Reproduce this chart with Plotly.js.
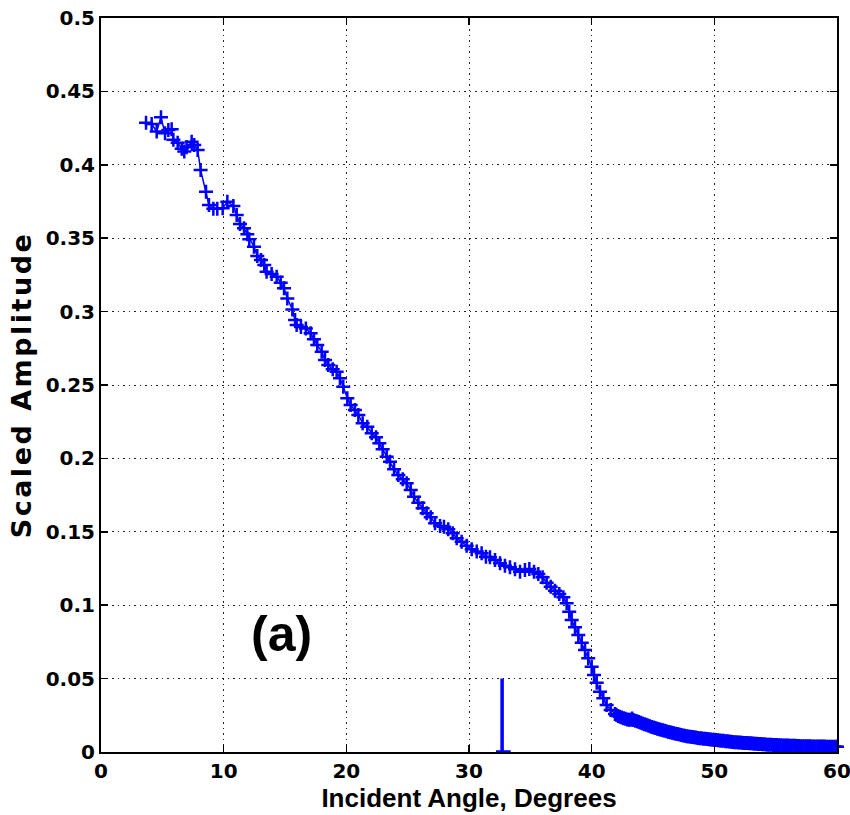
<!DOCTYPE html>
<html>
<head>
<meta charset="utf-8">
<script src="https://cdn.plot.ly/plotly-3.0.1.min.js"></script>
<style>html,body{margin:0;padding:0;background:#fff;}#plot{width:850px;height:815px;}
.ytitle{letter-spacing:2.5px;}</style>
</head>
<body>
<div id="plot"></div>
<script>
// Incident angle (degrees)
const angle = [
  3.67, 4.13, 4.54, 4.89, 5.22, 5.49, 5.76, 5.9, 6.25, 6.58, 6.79, 6.98, 7.39, 7.6, 7.88,
  8.12, 8.56, 8.8, 9.16, 9.48, 9.92, 10.3, 10.79, 11.06, 11.33, 11.66, 11.93, 12.09, 12.47,
  12.74, 13.04, 13.31, 13.5, 13.91, 14.32, 14.65, 14.92, 15.19, 15.6, 15.82, 15.95, 16.3,
  16.7, 17.09, 17.36, 17.63, 17.99, 18.26, 18.53, 18.89, 19.21, 19.48, 19.75, 20.08, 20.35,
  20.7, 20.98, 21.33, 21.71, 22.07, 22.42, 22.69, 22.96, 23.29, 23.56, 23.89, 24.24, 24.6,
  24.92, 25.25, 25.52, 25.87, 26.22, 26.55, 26.88, 27.23, 27.64, 27.96, 28.31, 28.67, 29.0,
  29.4, 29.81, 30.22, 30.63, 31.03, 31.38, 31.71, 32.12, 32.53, 32.93, 33.34, 33.75, 34.16,
  34.56, 34.92, 35.3, 35.65, 36.0, 36.33, 36.66, 37.01, 37.36, 37.69, 37.96, 38.17, 38.37,
  38.64, 38.91, 39.19, 39.46, 39.72, 40.0, 40.19, 40.41, 40.68, 40.95, 41.22, 41.55, 41.9,
  42.0, 42.15, 42.3, 42.45, 42.6, 42.75, 42.9, 43.05, 43.2, 43.3, 43.4, 43.55, 43.7, 43.85,
  44.0, 44.15, 44.3, 44.45, 44.6, 44.75, 44.9, 45.05, 45.2, 45.35, 45.5, 45.65, 45.8, 45.95,
  46.1, 46.25, 46.4, 46.55, 46.7, 46.85, 47.0, 47.15, 47.3, 47.45, 47.6, 47.75, 47.9, 48.05,
  48.2, 48.35, 48.5, 48.65, 48.8, 48.95, 49.1, 49.25, 49.4, 49.55, 49.7, 49.85, 50.0, 50.15,
  50.3, 50.45, 50.6, 50.75, 50.9, 51.05, 51.2, 51.35, 51.5, 51.65, 51.8, 51.95, 52.1, 52.25,
  52.4, 52.55, 52.7, 52.85, 53.0, 53.15, 53.3, 53.45, 53.6, 53.75, 53.9, 54.05, 54.2, 54.35,
  54.5, 54.65, 54.8, 54.95, 55.1, 55.25, 55.4, 55.55, 55.7, 55.85, 56.0, 56.15, 56.3, 56.45,
  56.6, 56.75, 56.9, 57.05, 57.2, 57.35, 57.5, 57.65, 57.8, 57.95, 58.1, 58.25, 58.4, 58.55,
  58.7, 58.85, 59.0, 59.15, 59.3, 59.45, 59.6, 59.75, 59.9, 60.0
];
// Scaled amplitude
const amplitude = [
  0.4287, 0.4278, 0.4226, 0.4324, 0.4215, 0.4237, 0.4242, 0.417, 0.415, 0.411, 0.409, 0.412, 0.4157, 0.4135, 0.410,
  0.3965, 0.3817, 0.3726, 0.370, 0.370, 0.3704, 0.3749, 0.372, 0.3658, 0.3597, 0.3567, 0.3527, 0.3493, 0.3442,
  0.3379, 0.3351, 0.3317, 0.3272, 0.3256, 0.3238, 0.3197, 0.3159, 0.309, 0.3015, 0.2943, 0.2909, 0.2895,
  0.2885, 0.2852, 0.2811, 0.2772, 0.2727, 0.267, 0.2636, 0.2607, 0.2591, 0.2546, 0.2488, 0.241, 0.2364,
  0.233, 0.2296, 0.2239, 0.2216, 0.2171, 0.2144, 0.2103, 0.2062, 0.2012, 0.1978, 0.1926, 0.1887, 0.1858,
  0.183, 0.1785, 0.1739, 0.1698, 0.166, 0.1626, 0.1599, 0.1558, 0.154, 0.1535, 0.1517, 0.149, 0.1456,
  0.1433, 0.1405, 0.1381, 0.1365, 0.1354, 0.133, 0.1326, 0.1308, 0.1285, 0.1269, 0.1258, 0.1245, 0.1228,
  0.124, 0.1247, 0.1228, 0.1213, 0.119, 0.1153, 0.1126, 0.1099, 0.1076, 0.1054, 0.1013, 0.0956, 0.0899,
  0.0849, 0.0797, 0.0745, 0.0695, 0.0638, 0.0581, 0.0525, 0.0472, 0.0411, 0.0366, 0.032, 0.0286, 0.0259,
  0.0253, 0.0246, 0.0240, 0.0235, 0.0230, 0.0226, 0.0222, 0.0220, 0.0219, 0.0229, 0.0218, 0.0213, 0.0209, 0.0204,
  0.0199, 0.0194, 0.0189, 0.0185, 0.0180, 0.0176, 0.0171, 0.0167, 0.0163, 0.0159, 0.0155, 0.0152, 0.0148, 0.0145,
  0.0141, 0.0137, 0.0134, 0.0131, 0.0128, 0.0125, 0.0122, 0.0119, 0.0116, 0.0113, 0.0110, 0.0108, 0.0106, 0.0104,
  0.0102, 0.0100, 0.0098, 0.0096, 0.0094, 0.0093, 0.0091, 0.0090, 0.0088, 0.0087, 0.0086, 0.0084, 0.0083, 0.0082,
  0.0080, 0.0079, 0.0077, 0.0076, 0.0074, 0.0073, 0.0071, 0.0070, 0.0068, 0.0067, 0.0066, 0.0065, 0.0064, 0.0063,
  0.0062, 0.0062, 0.0061, 0.0060, 0.0059, 0.0058, 0.0057, 0.0056, 0.0055, 0.0054, 0.0053, 0.0052, 0.0051, 0.0050,
  0.0050, 0.0049, 0.0048, 0.0048, 0.0047, 0.0046, 0.0046, 0.0045, 0.0045, 0.0044, 0.0044, 0.0043, 0.0043, 0.0042,
  0.0042, 0.0041, 0.0041, 0.0040, 0.0040, 0.0040, 0.0039, 0.0039, 0.0039, 0.0038, 0.0038, 0.0038, 0.0038, 0.0037,
  0.0037, 0.0037, 0.0037, 0.0036, 0.0036, 0.0036, 0.0036, 0.0036, 0.0035, 0.0035
];
// Critical-angle marker
const markerX = [32.2, 32.7, 32.7, 32.7, 33.4];
const markerY = [0, 0, 0.05, 0, 0];

const xTicks = [0, 10, 20, 30, 40, 50, 60];
const yTicks = [0, 0.05, 0.1, 0.15, 0.2, 0.25, 0.3, 0.35, 0.4, 0.45, 0.5];
const yTickText = ['0', '0.05', '0.1', '0.15', '0.2', '0.25', '0.3', '0.35', '0.4', '0.45', '0.5'];

const TICKFONT = 'DejaVu Sans, Liberation Sans, Arial, sans-serif';
const ARIAL = 'Liberation Sans, Arial, Helvetica, sans-serif';
const BLUE = '#0000ff';

const traces = [
  {
    x: angle, y: amplitude, type: 'scatter', mode: 'lines+markers',
    line: {color: BLUE, width: 1.5},
    marker: {symbol: 'cross-thin-open', size: 10, color: BLUE, line: {color: BLUE, width: 2.5}},
    hoverinfo: 'x+y', showlegend: false, cliponaxis: false
  },
  {
    x: markerX, y: markerY, type: 'scatter', mode: 'lines',
    line: {color: BLUE, width: 3.5},
    showlegend: false, cliponaxis: false
  }
];

const axisCommon = {
  showline: true, linecolor: '#000', linewidth: 2, mirror: 'ticks',
  ticks: 'inside', ticklen: 7, tickwidth: 1.5, tickcolor: '#000',
  showgrid: true, gridcolor: '#222', gridwidth: 1, griddash: '1.5px,4px',
  zeroline: false, ticklabeloverflow: 'allow',
  tickfont: {family: TICKFONT, size: 20, color: '#000', weight: 'bold'}
};

const layout = {
  width: 850, height: 815,
  margin: {l: 101, r: 13, t: 18, b: 63},
  paper_bgcolor: '#fff', plot_bgcolor: '#fff',
  xaxis: Object.assign({}, axisCommon, {
    range: [0, 60], tickvals: xTicks, ticktext: xTicks.map(String),
    title: {text: 'Incident Angle, Degrees', standoff: 2,
            font: {family: ARIAL, size: 26, color: '#000', weight: 'bold'}}
  }),
  yaxis: Object.assign({}, axisCommon, {
    range: [0, 0.5], tickvals: yTicks, ticktext: yTickText,
    title: {text: 'Scaled Amplitude', standoff: 6,
            font: {family: TICKFONT, size: 27, color: '#000', weight: 'bold'}}
  }),
  annotations: [{
    x: 14.75, y: 0.0805, xref: 'x', yref: 'y', text: '(a)', showarrow: false,
    font: {family: ARIAL, size: 50, color: '#000', weight: 'bold'}
  }]
};

Plotly.newPlot('plot', traces, layout, {displayModeBar: false, staticPlot: true});
</script>
</body>
</html>
